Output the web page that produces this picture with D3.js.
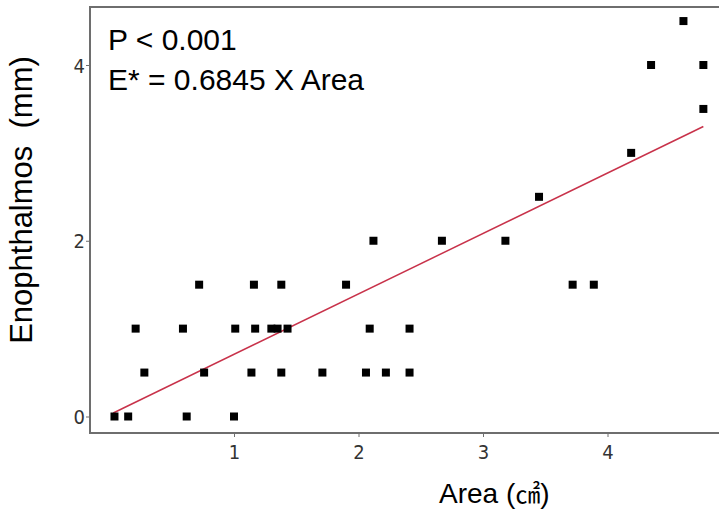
<!DOCTYPE html>
<html>
<head>
<meta charset="utf-8">
<script src="https://cdn.jsdelivr.net/npm/d3@7"></script>
<style>
	body { margin: 0; background: #fff; }
	svg { display: block; }
	.tick text { font-family: 'Liberation Sans Narrow', 'DejaVu Sans Condensed', sans-serif; font-stretch: condensed; }
</style>
</head>
<body>
<svg width="719" height="514"></svg>
<script>
// area (cm2) and enophthalmos (mm) for each patient
var areaVals = [0.04, 0.15, 0.62, 1.00,
	0.28, 0.76, 1.14, 1.38, 1.71, 2.06, 2.22, 2.41,
	0.21, 0.59, 1.01, 1.17, 1.30, 1.35, 1.43, 2.09, 2.41,
	0.72, 1.16, 1.38, 1.90, 3.72, 3.89,
	2.12, 2.67, 3.18,
	3.45, 4.19, 4.77, 4.35, 4.77, 4.61];
var enoVals = [0, 0, 0, 0,
	0.5, 0.5, 0.5, 0.5, 0.5, 0.5, 0.5, 0.5,
	1, 1, 1, 1, 1, 1, 1, 1, 1,
	1.5, 1.5, 1.5, 1.5, 1.5, 1.5,
	2, 2, 2,
	2.5, 3, 3.5, 4, 4, 4.5];

// regression line ends
var fitX = [0.03, 4.77];
var fitY = [0.04, 3.30];

var xTicks = [1, 2, 3, 4];
var yTicks = [0, 2, 4];
var notes = ['P < 0.001', 'E* = 0.6845 X Area'];

var svg = d3.select('svg'),
	width = +svg.attr('width'),
	height = +svg.attr('height');

// plot frame edges ("top" is taken by window.top)
var frameL = 90, frameT = 7, frameB = 433;

var x = d3.scaleLinear().domain([0, 4]).range([109.5, 607.5]);
var y = d3.scaleLinear().domain([0, 4]).range([416.5, 65]);

var axisColor = '#6e6e6e';

// frame: left, top, bottom
svg.append('path')
	.attr('d', 'M' + (width + 1) + ',' + frameT + 'H' + frameL + 'V' + frameB + 'H' + (width + 1))
	.attr('fill', 'none')
	.attr('stroke', axisColor)
	.attr('stroke-width', 2);

var xAxis = svg.append('g')
	.attr('transform', 'translate(0,' + frameB + ')')
	.call(d3.axisBottom(x).tickValues(xTicks).tickSize(4).tickFormat(d3.format('d')));
var yAxis = svg.append('g')
	.attr('transform', 'translate(' + frameL + ',0)')
	.call(d3.axisLeft(y).tickValues(yTicks).tickSize(4).tickFormat(d3.format('d')));

[xAxis, yAxis].forEach(function(g) {
	g.select('.domain').remove();
	g.selectAll('.tick line').attr('stroke', axisColor).attr('stroke-width', 1);
	g.selectAll('.tick text').attr('fill', '#333').style('font-size', '20px');
});
xAxis.selectAll('.tick text').attr('dy', '0.95em');
yAxis.selectAll('.tick text').attr('x', -5).attr('dy', '0.35em');

// fit line
svg.append('line')
	.attr('x1', x(fitX[0])).attr('y1', y(fitY[0]))
	.attr('x2', x(fitX[1])).attr('y2', y(fitY[1]))
	.attr('stroke', '#c8324a')
	.attr('stroke-width', 1.5);

// squares
var data = areaVals.map(function(a, i) { return {a: a, e: enoVals[i]}; });
var s = 8;
svg.selectAll('rect.pt')
	.data(data)
	.enter()
	.append('rect')
	.attr('class', 'pt')
	.attr('x', function(d) { return x(d.a) - s / 2; })
	.attr('y', function(d) { return y(d.e) - s / 2; })
	.attr('width', s)
	.attr('height', s)
	.attr('fill', '#000');

// notes
svg.selectAll('text.note')
	.data(notes)
	.enter()
	.append('text')
	.attr('class', 'note')
	.attr('x', 108)
	.attr('y', function(d, i) { return 50 + i * 40; })
	.style('font-family', 'Liberation Sans, Arial, sans-serif')
	.style('font-size', '30px')
	.attr('fill', '#000')
	.text(function(d) { return d; });

// axis titles
svg.append('text')
	.attr('x', 439)
	.attr('y', 503)
	.style('font-family', 'Liberation Sans, Arial, sans-serif')
	.style('font-size', '28px')
	.html('Area (<tspan style="font-family:\'Noto Sans CJK KR\';font-size:25px">㎠</tspan>)');

svg.append('text')
	.attr('transform', 'translate(32,200) rotate(-90)')
	.attr('text-anchor', 'middle')
	.style('font-family', 'Liberation Sans, Arial, sans-serif')
	.style('font-size', '31px')
	.style('white-space', 'pre')
	.text('Enophthalmos  (mm)');
</script>
</body>
</html>
